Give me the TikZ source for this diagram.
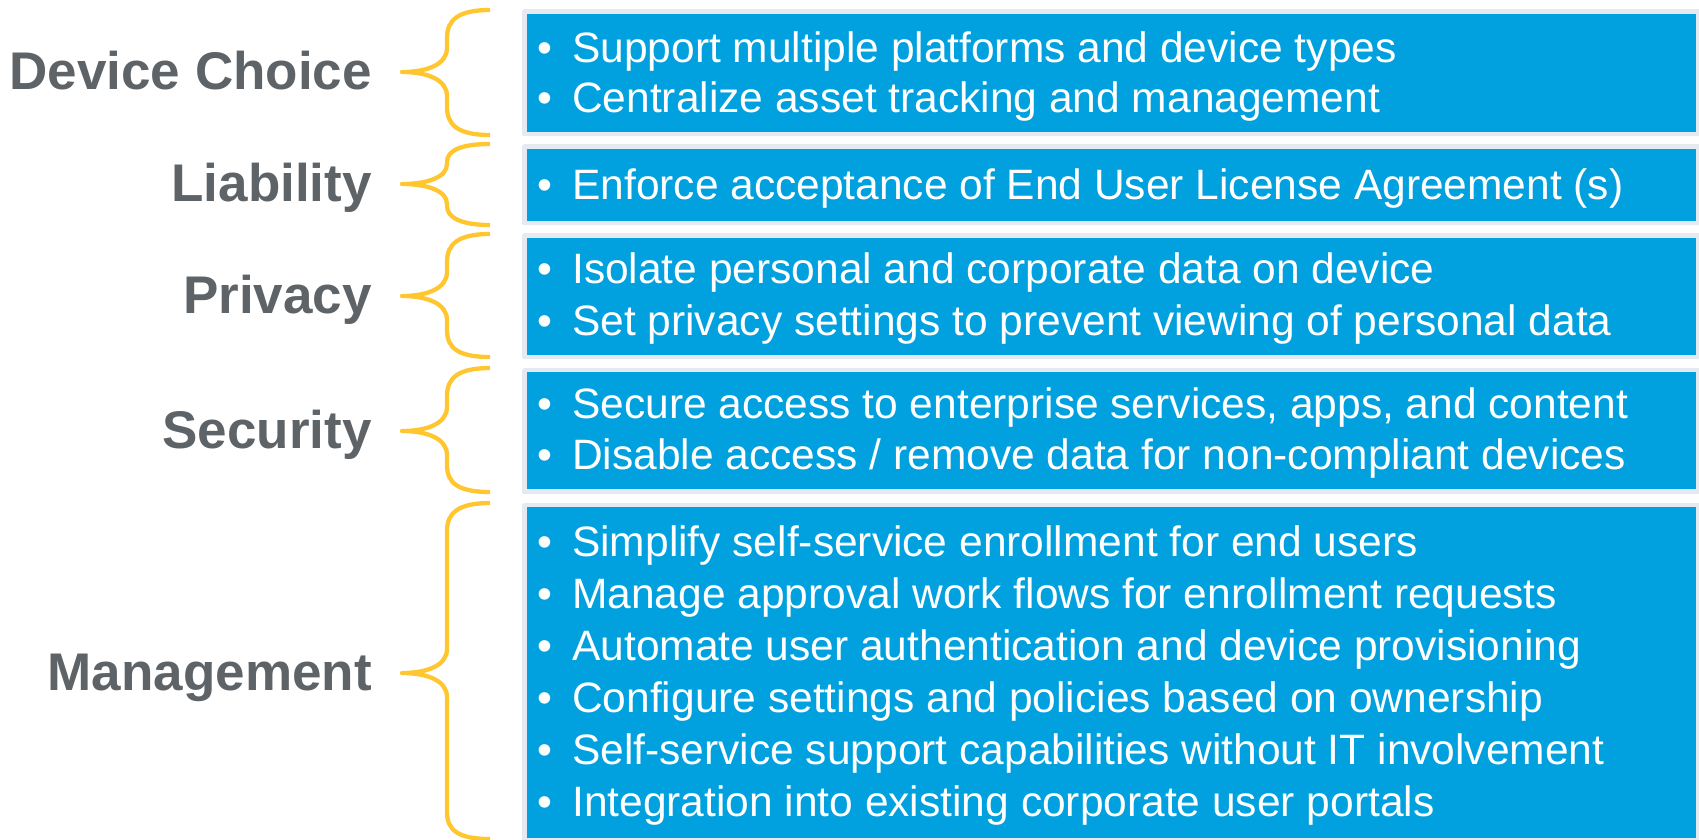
\documentclass[tikz,border=0pt]{standalone}
\usepackage{fontspec}
\setmainfont{Liberation Sans}
\definecolor{boxblue}{RGB}{0,161,222}
\definecolor{boxrim}{RGB}{228,234,240}
\definecolor{braceyellow}{RGB}{255,198,47}
\definecolor{labelgray}{RGB}{94,99,103}
\begin{document}
\begin{tikzpicture}[x=1pt,y=-1pt,
  outerbox/.style={fill=boxrim,draw=none,rounded corners=2pt,inner sep=0,anchor=north west},
  innerbox/.style={fill=boxblue,draw=none,inner sep=0,anchor=north west},
  catlabel/.style={anchor=base east,inner sep=0,text=labelgray,font=\fontsize{53}{60}\selectfont\bfseries},
  itemtext/.style={anchor=base west,inner sep=0,text=white,font=\fontsize{42.5}{50}\selectfont},
  bulletdot/.style={anchor=base,inner sep=0,text=white,font=\fontsize{42.5}{50}\selectfont},
  bracestyle/.style={draw=braceyellow,line width=4.3pt,line join=round}]
\useasboundingbox (0,0) rectangle (1699,839);
% boxes
\node[outerbox,minimum width=1190pt,minimum height=127pt] (o1) at (522,9) {};
\node[innerbox,minimum width=1169pt,minimum height=118pt] (i1) at (527,14) {};
\node[outerbox,minimum width=1190pt,minimum height=81pt] (o2) at (522,144) {};
\node[innerbox,minimum width=1169pt,minimum height=72pt] (i2) at (527,149) {};
\node[outerbox,minimum width=1190pt,minimum height=126pt] (o3) at (522,233) {};
\node[innerbox,minimum width=1169pt,minimum height=117pt] (i3) at (527,238) {};
\node[outerbox,minimum width=1190pt,minimum height=126pt] (o4) at (522,368) {};
\node[innerbox,minimum width=1169pt,minimum height=117pt] (i4) at (527,372) {};
\node[outerbox,minimum width=1190pt,minimum height=345pt] (o5) at (522,503) {};
\node[innerbox,minimum width=1169pt,minimum height=331pt] (i5) at (527,507) {};
% labels
\node[catlabel] (l1) at (372,89) {Device Choice};
\node[catlabel] (l2) at (372,201) {Liability};
\node[catlabel] (l3) at (372,313) {Privacy};
\node[catlabel] (l4) at (372,448) {Security};
\node[catlabel] (l5) at (372,690) {Management};
% braces
\draw[bracestyle] (490,10) .. controls (458,10) and (447,20) .. (447,38) -- (447,48)
  .. controls (447,64) and (428,72) .. (402,72)
  .. controls (428,72) and (447,80) .. (447,96) -- (447,107)
  .. controls (447,125) and (458,135) .. (490,135);
\draw[bracestyle] (490,144) .. controls (462,144) and (447,150) .. (447,162) -- (447,164)
  .. controls (447,177) and (428,184) .. (402,184)
  .. controls (428,184) and (447,191) .. (447,204) -- (447,206)
  .. controls (447,218) and (462,225) .. (490,225);
\draw[bracestyle] (490,234) .. controls (458,234) and (447,244) .. (447,262) -- (447,272)
  .. controls (447,288) and (428,296) .. (402,296)
  .. controls (428,296) and (447,304) .. (447,320) -- (447,330)
  .. controls (447,348) and (458,357) .. (490,357);
\draw[bracestyle] (490,368) .. controls (458,368) and (447,378) .. (447,396) -- (447,407)
  .. controls (447,423) and (428,431) .. (402,431)
  .. controls (428,431) and (447,439) .. (447,455) -- (447,465)
  .. controls (447,483) and (458,492) .. (490,492);
\draw[bracestyle] (490,503) .. controls (458,503) and (447,513) .. (447,531) -- (447,649)
  .. controls (447,665) and (428,673) .. (402,673)
  .. controls (428,673) and (447,681) .. (447,697) -- (447,812)
  .. controls (447,830) and (458,839) .. (490,839);
% items
\foreach \n/\y/\txt in {
  1/62/{Support multiple platforms and device types},
  2/112/{Centralize asset tracking and management},
  3/199/{Enforce acceptance of End User License Agreement (s)},
  4/283/{Isolate personal and corporate data on device},
  5/335/{Set privacy settings to prevent viewing of personal data},
  6/418/{Secure access to enterprise services, apps, and content},
  7/469/{Disable access / remove data for non-compliant devices},
  8/556/{Simplify self-service enrollment for end users},
  9/608/{Manage approval work flows for enrollment requests},
  10/660/{Automate user authentication and device provisioning},
  11/712/{Configure settings and policies based on ownership},
  12/764/{Self-service support capabilities without IT involvement},
  13/816/{Integration into existing corporate user portals}}{
  \node[bulletdot] (d\n) at (545,\y) {•};
  \node[itemtext] (t\n) at (572,\y) {\txt};
}
\end{tikzpicture}
\end{document}
